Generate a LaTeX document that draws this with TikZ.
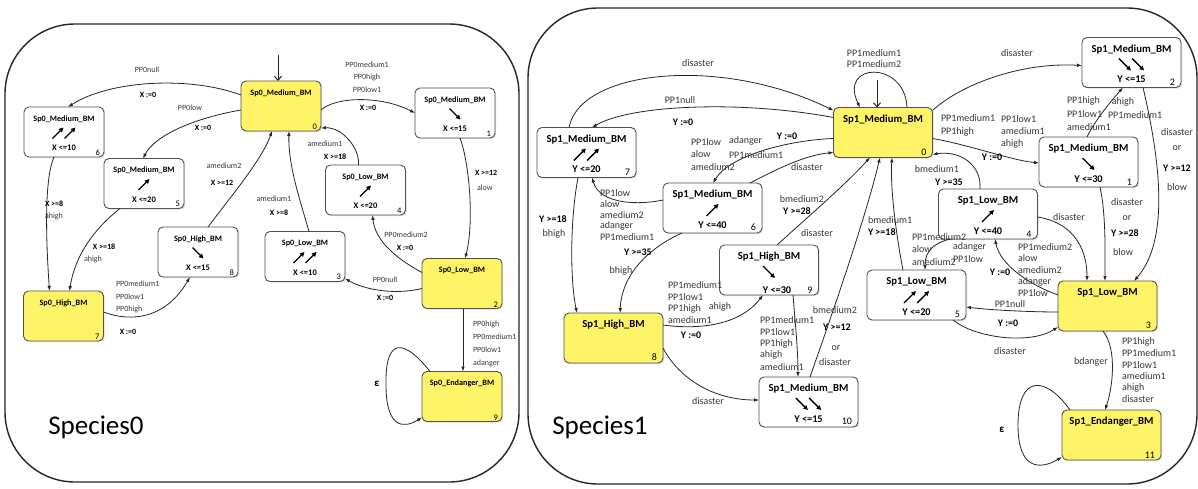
\documentclass[tikz,border=0pt]{standalone}
\usepackage{fontspec}
\setmainfont{Carlito}
\usetikzlibrary{calc,arrows.meta,shadows}
\definecolor{yel}{RGB}{255,244,104}
\definecolor{ink}{RGB}{38,38,38}
\definecolor{gtxt}{RGB}{55,55,55}
\definecolor{boxline}{RGB}{80,80,80}
\tikzset{
  every node/.style={inner sep=0pt,outer sep=0pt},
  panel/.style={draw=black!85,line width=1.4pt,rounded corners=70pt},
  shbox/.style={draw=boxline,line width=0.9pt,rounded corners=5pt,
    drop shadow={shadow xshift=1.2pt,shadow yshift=-1.2pt,opacity=0.25}},
  lbox/.style={shbox,minimum width=80pt,minimum height=50pt},
  rbox/.style={shbox,minimum width=99pt,minimum height=50pt},
  ltitle/.style={font=\fontsize{8.2}{9}\selectfont\bfseries},
  rtitle/.style={font=\fontsize{10.7}{12}\selectfont\bfseries},
  lcons/.style={font=\fontsize{8.5}{9}\selectfont\bfseries},
  rcons/.style={font=\fontsize{10.3}{11}\selectfont\bfseries},
  lidx/.style={font=\fontsize{8.5}{9}\selectfont},
  ridx/.style={font=\fontsize{10}{11}\selectfont},
  lab/.style={font=\fontsize{8}{9}\selectfont,text=gtxt},
  labb/.style={font=\fontsize{8}{9}\selectfont\bfseries},
  rlab/.style={font=\fontsize{10}{11}\selectfont,text=gtxt},
  rlabb/.style={font=\fontsize{10}{11}\selectfont\bfseries},
  big/.style={font=\fontsize{27}{30}\selectfont},
  eps/.style={font=\fontsize{11}{12}\selectfont\bfseries},
  edge/.style={draw=ink,line width=0.8pt,-{Latex[length=5pt,width=3.6pt]}},
  initarr/.style={draw=ink,line width=1pt,-{Straight Barb[length=4pt,width=7pt]}},
  inarrow/.style={line width=1.3pt,-{Triangle[length=4.5pt,width=4.5pt]}},
}
\newcommand{\aNone}[2]{}
\newcommand{\aNE}[2]{\draw[inarrow] ($(#1)+(-#2,#2)$) -- ($(#1)+(#2,-#2)$);}
\newcommand{\aSE}[2]{\draw[inarrow] ($(#1)+(-#2,-#2)$) -- ($(#1)+(#2,#2)$);}
\newcommand{\aNENE}[2]{%
  \draw[inarrow] ($(#1)+({-2.1*#2},#2)$) -- ($(#1)+({-0.1*#2},-#2)$);
  \draw[inarrow] ($(#1)+({0.1*#2},#2)$) -- ($(#1)+({2.1*#2},-#2)$);}
\newcommand{\aSESE}[2]{%
  \draw[inarrow] ($(#1)+({-2.1*#2},-#2)$) -- ($(#1)+({-0.1*#2},#2)$);
  \draw[inarrow] ($(#1)+({0.1*#2},-#2)$) -- ($(#1)+({2.1*#2},#2)$);}
\newcommand{\lstate}[7]{%
  \node[lbox,fill=#3] (#1) at (#2) {};
  \node[ltitle] (#1-t) at ($(#1.north)+(0,12)$) {#4};
  \coordinate (#1-a) at ($(#1.north)+(0,26)$);
  #5{#1-a}{5.5}%
  \node[lcons] (#1-c) at ($(#1.north)+(0,41)$) {#6};
  \node[lidx,anchor=south east] (#1-i) at ($(#1.south east)+(-4,-1.5)$) {#7};}
\newcommand{\rstate}[7]{%
  \node[rbox,fill=#3] (#1) at (#2) {};
  \node[rtitle] (#1-t) at ($(#1.north)+(0,12)$) {#4};
  \coordinate (#1-a) at ($(#1.north)+(0,27)$);
  #5{#1-a}{6}%
  \node[rcons] (#1-c) at ($(#1.north)+(0,42)$) {#6};
  \node[ridx,anchor=south east] (#1-i) at ($(#1.south east)+(-6,-2)$) {#7};}
\newcommand{\labs}[6]{\foreach \t [count=\i] in {#6} {\node[#5] (#1-\i) at (#2,{#3+(\i-1)*#4}) {\t};}}
\begin{document}
\begin{tikzpicture}[x=1pt,y=-1pt]
\useasboundingbox (0,0) rectangle (1198,488);
\fill[white] (0,0) rectangle (1198,488);
\node[panel,minimum width=514pt,minimum height=458pt] (P0) at (262,253) {};
\node[panel,minimum width=669pt,minimum height=476pt] (P1) at (862.5,246) {};

% ---------------- Species0 ----------------
\lstate{L0}{281,106}{yel}{Sp0\_Medium\_BM}{\aNone}{}{0}
\lstate{L1}{455,113}{white}{Sp0\_Medium\_BM}{\aSE}{X <=15}{1}
\lstate{L2}{462,283.5}{yel}{Sp0\_Low\_BM}{\aNone}{}{2}
\lstate{L3}{305,256.5}{white}{Sp0\_Low\_BM}{\aNENE}{X <=10}{3}
\lstate{L4}{365.5,190}{white}{Sp0\_Low\_BM}{\aNE}{X <=20}{4}
\lstate{L5}{144,183.5}{white}{Sp0\_Medium\_BM}{\aNE}{X <=20}{5}
\lstate{L6}{64,132}{white}{Sp0\_Medium\_BM}{\aNENE}{X <=10}{6}
\lstate{L7}{63.5,316}{yel}{Sp0\_High\_BM}{\aNone}{}{7}
\lstate{L8}{198,252}{white}{Sp0\_High\_BM}{\aSE}{X <=15}{8}
\lstate{L9}{462,396.5}{yel}{Sp0\_Endanger\_BM}{\aNone}{}{9}

\coordinate (L0in) at (278,55);
\draw[initarr] (L0in) -- ($(L0.north west)+(37,0)$);
\draw[edge] ($(L0.north west)+(0,14)$) .. controls (190,76) and (110,80) .. ($(L6.north west)+(44,0)$);
\draw[edge] ($(L0.north west)+(0,29)$) .. controls (195,118) and (155,135) .. ($(L5.north west)+(39,0)$);
\draw[edge] ($(L0.north west)+(80,29)$) .. controls (335,97) and (380,95) .. ($(L1.north west)+(0,25)$);
\draw[edge] ($(L1.north west)+(45,50)$) .. controls (470,165) and (474,225) .. ($(L2.north west)+(43,0)$);
\draw[edge] ($(L4.north west)+(33,0)$) .. controls (360,148) and (342,127) .. ($(L0.north west)+(80,47)$);
\draw[edge] ($(L3.north west)+(44,0)$) .. controls (300,200) and (288,165) .. ($(L0.north west)+(48,50)$);
\draw[edge] ($(L8.north west)+(50,0)$) .. controls (228,200) and (262,160) .. ($(L0.north west)+(31,50)$);
\draw[edge] ($(L6.north west)+(30,50)$) .. controls (44,180) and (46,240) .. ($(L7.north west)+(26,0)$);
\draw[edge] ($(L5.north west)+(16,50)$) .. controls (95,228) and (75,255) .. ($(L7.north west)+(46,0)$);
\draw[edge] ($(L7.north west)+(80,21)$) .. controls (130,322) and (165,320) .. ($(L8.north west)+(32,50)$);
\draw[edge] ($(L2.north west)+(0,14)$) .. controls (395,258) and (375,240) .. ($(L4.north west)+(47,50)$);
\draw[edge] ($(L2.north west)+(0,30)$) .. controls (395,295) and (365,290) .. ($(L3.north west)+(80,47)$);
\draw[edge] ($(L2.north west)+(41,50)$) -- ($(L9.north west)+(41,0)$);
\coordinate (L9loop) at (386,385);
\draw[edge] ($(L9.north west)+(8,0)$) .. controls (405,340) and (385,335) .. (L9loop)
   .. controls (386,430) and (405,428) .. ($(L9.north west)+(0,46)$);

\node[lab] (l1) at (147,70) {PP0null};
\node[labb] (l2) at (148,95) {X :=0};
\node[lab] (l3) at (190,108) {PP0low};
\node[labb] (l4) at (203,128) {X :=0};
\labs{l5}{367}{65}{12.5}{lab}{PP0medium1,PP0high,PP0low1}
\node[labb] (l6) at (368,108) {X :=0};
\node[labb,anchor=west] (l7) at (475,173) {X >=12};
\node[lab,anchor=west] (l8) at (477,188) {alow};
\node[lab] (l9) at (325,144) {amedium1};
\node[labb] (l10) at (335,157) {X >=18};
\node[lab] (l11) at (274,199) {amedium1};
\node[labb] (l12) at (279,213) {X >=8};
\node[lab] (l13) at (224,166) {amedium2};
\node[labb] (l14) at (222,183) {X >=12};
\node[labb,anchor=west] (l15) at (45,204) {X >=8};
\node[lab,anchor=west] (l16) at (45,216) {ahigh};
\node[labb] (l17) at (104,247) {X >=18};
\node[lab] (l18) at (93,259) {ahigh};
\labs{l19}{116}{284}{12.5}{lab,anchor=west}{PP0medium1,PP0low1,PP0high}
\node[labb] (l20) at (128,332) {X :=0};
\node[lab] (l21) at (406,235) {PP0medium2};
\node[labb] (l22) at (405,248) {X :=0};
\node[lab] (l23) at (385,280) {PP0null};
\node[labb] (l24) at (385,298) {X :=0};
\labs{l25}{473}{324}{13}{lab,anchor=west}{PP0high,PP0medium1,PP0low1,adanger}
\node[eps] (l26) at (377,384) {ε};
\node[big] (S0) at (96,427) {Species0};

% ---------------- Species1 ----------------
\rstate{R0}{883,132.5}{yel}{Sp1\_Medium\_BM}{\aNone}{}{0}
\rstate{R1}{1088.5,162}{white}{Sp1\_Medium\_BM}{\aSE}{Y <=30}{1}
\rstate{R2}{1131.5,62.5}{white}{Sp1\_Medium\_BM}{\aSESE}{Y <=15}{2}
\rstate{R3}{1107.5,306}{yel}{Sp1\_Low\_BM}{\aNone}{}{3}
\rstate{R4}{988,214}{white}{Sp1\_Low\_BM}{\aNE}{Y <=40}{4}
\rstate{R5}{916.5,295}{white}{Sp1\_Low\_BM}{\aNENE}{Y <=20}{5}
\rstate{R6}{712.5,208}{white}{Sp1\_Medium\_BM}{\aNE}{Y <=40}{6}
\rstate{R7}{586.5,152.5}{white}{Sp1\_Medium\_BM}{\aNENE}{Y <=20}{7}
\rstate{R8}{613.5,338}{yel}{Sp1\_High\_BM}{\aNone}{}{8}
\rstate{R9}{769,270}{white}{Sp1\_High\_BM}{\aSE}{}{9}
\node[rcons] (R9-c2) at (777,290) {Y <=30};
\rstate{R10}{808.5,402}{white}{Sp1\_Medium\_BM}{\aSESE}{Y <=15}{10}
\rstate{R11}{1111.5,435}{yel}{Sp1\_Endanger\_BM}{\aNone}{}{11}

\coordinate (R0in) at (877,80);
\draw[initarr] (R0in) -- ($(R0.north west)+(43.5,0)$);
\draw[edge] ($(R0.north west)+(73.5,0)$) .. controls (905,60) and (838,62) .. ($(R0.north west)+(26.5,0)$);
\draw[edge] ($(R0.north west)+(0,10)$) .. controls (740,100) and (630,105) .. ($(R7.north west)+(55,0)$);
\draw[edge] ($(R7.north west)+(32,0)$) .. controls (580,70) and (720,55) .. ($(R0.north west)+(0,3)$);
\draw[edge] ($(R0.north west)+(0,31)$) .. controls (790,140) and (730,155) .. ($(R6.north west)+(50,0)$);
\draw[edge] ($(R6.north west)+(87,0)$) .. controls (775,170) and (805,155) .. ($(R0.north west)+(0,45)$);
\draw[edge] ($(R6.north west)+(0,17)$) .. controls (640,205) and (600,205) .. ($(R7.north west)+(55,50)$);
\draw[edge] ($(R7.north west)+(41,50)$) .. controls (570,220) and (570,280) .. ($(R8.north west)+(13,0)$);
\draw[edge] ($(R6.north west)+(19,50)$) .. controls (655,245) and (622,270) .. ($(R8.north west)+(56,0)$);
\draw[edge] ($(R8.north west)+(99,12)$) .. controls (700,330) and (740,325) .. ($(R9.north west)+(43.5,50)$);
\draw[edge] ($(R8.north west)+(99,35)$) .. controls (680,380) and (715,400) .. ($(R10.north west)+(0,23)$);
\draw[edge] ($(R9.north west)+(57.5,0)$) .. controls (810,215) and (845,185) .. ($(R0.north west)+(36.5,50)$);
\draw[edge] ($(R9.north west)+(73.5,50)$) .. controls (795,320) and (798,350) .. ($(R10.north west)+(39,0)$);
\draw[edge] ($(R10.north west)+(51,0)$) .. controls (830,320) and (865,220) .. ($(R0.north west)+(46.5,50)$);
\draw[edge] ($(R5.north west)+(36,0)$) .. controls (897,240) and (890,190) .. ($(R0.north west)+(58.5,50)$);
\draw[edge] ($(R4.north west)+(41.5,0)$) .. controls (982,165) and (960,150) .. ($(R0.north west)+(99,47)$);
\draw[edge] ($(R0.north west)+(99,31)$) .. controls (970,145) and (1010,160) .. ($(R1.north west)+(0,26)$);
\draw[edge] ($(R0.north west)+(99,3)$) .. controls (960,85) and (1020,62) .. ($(R2.north west)+(0,28)$);
\draw[edge] ($(R1.north west)+(48,0)$) .. controls (1095,120) and (1112,100) .. ($(R2.north west)+(41,50)$);
\draw[edge] ($(R2.north west)+(61,50)$) .. controls (1160,160) and (1170,240) .. ($(R3.north west)+(76,0)$);
\draw[edge] ($(R1.north west)+(61,50)$) .. controls (1106,215) and (1105,250) .. ($(R3.north west)+(47,0)$);
\draw[edge] ($(R4.north west)+(99,28)$) .. controls (1070,222) and (1087,245) .. ($(R3.north west)+(29,0)$);
\draw[edge] ($(R3.north west)+(0,14)$) .. controls (1030,285) and (1000,265) .. ($(R4.north west)+(56.5,50)$);
\draw[edge] ($(R3.north west)+(0,31)$) .. controls (1030,312) and (990,310) .. ($(R5.north west)+(99,37)$);
\draw[edge] ($(R5.north west)+(86,50)$) .. controls (975,338) and (1030,345) .. ($(R3.north west)+(0,46)$);
\draw[edge] ($(R4.north west)+(11.5,50)$) .. controls (935,243) and (925,250) .. ($(R5.north west)+(58,0)$);
\draw[edge] ($(R3.north west)+(45,50)$) .. controls (1118,350) and (1112,390) .. ($(R11.north west)+(43,0)$);
\coordinate (R11loop) at (1018,425);
\draw[edge] ($(R11.north west)+(8,0)$) .. controls (1045,375) and (1018,375) .. (R11loop)
   .. controls (1018,470) and (1040,470) .. ($(R11.north west)+(0,47)$);

\labs{r1}{874}{53}{11.5}{rlab}{PP1medium1,PP1medium2}
\node[rlab] (r2) at (698,63) {disaster};
\node[rlab] (r3) at (680,100) {PP1null};
\node[rlabb] (r4) at (683,122) {Y :=0};
\labs{r5}{691}{142}{12.5}{rlab,anchor=west}{PP1low,alow,amedium2}
\labs{r6}{729}{141}{14}{rlab,anchor=west}{adanger,PP1medium1}
\node[rlabb] (r7) at (787,136) {Y :=0};
\node[rlab] (r8) at (807,167) {disaster};
\labs{r9}{600}{193}{11}{rlab,anchor=west}{PP1low,alow,amedium2,adanger,PP1medium1}
\node[rlabb] (r10) at (553,219) {Y >=18};
\node[rlab] (r11) at (554,234) {bhigh};
\node[rlabb] (r12) at (638,252) {Y >=35};
\node[rlab] (r13) at (621,271) {bhigh};
\labs{r14}{668}{285}{11.7}{rlab,anchor=west}{PP1medium1,PP1low1,PP1high,amedium1}
\node[rlab] (r15) at (720,307) {ahigh};
\node[rlabb] (r16) at (691,335) {Y :=0};
\node[rlab] (r17) at (708,401) {disaster};
\node[rlab] (r18) at (802,199) {bmedium2};
\node[rlabb] (r19) at (797,211) {Y >=28};
\node[rlab] (r20) at (817,233) {disaster};
\labs{r21}{760}{320}{11.7}{rlab,anchor=west}{PP1medium1,PP1low1,PP1high,ahigh,amedium1}
\node[rlab] (r22) at (835,310) {bmedium2};
\node[rlabb] (r23) at (837,327) {Y >=12};
\node[rlab] (r24) at (836,348) {or};
\node[rlab] (r25) at (835,362) {disaster};
\node[rlab,anchor=west] (r26) at (868,220) {bmedium1};
\node[rlabb,anchor=west] (r27) at (868,232) {Y >=18};
\node[rlab] (r28) at (937,169) {bmedium1};
\node[rlabb] (r29) at (949,182) {Y >=35};
\labs{r30}{941}{118}{14}{rlab,anchor=west}{PP1medium1,PP1high}
\labs{r31}{1001}{119}{12.5}{rlab,anchor=west}{PP1low1,amedium1,ahigh}
\node[rlabb] (r32) at (992,157) {Y :=0};
\node[rlab] (r33) at (1017,53) {disaster};
\labs{r34}{1067}{101}{13}{rlab,anchor=west}{PP1high,PP1low1,amedium1}
\node[rlab] (r35) at (1123,102) {ahigh};
\node[rlab,anchor=west] (r36) at (1108,115) {PP1medium1};
\node[rlab] (r37) at (1177,132) {disaster};
\node[rlab] (r38) at (1177,148) {or};
\node[rlabb] (r39) at (1177,168) {Y >=12};
\node[rlab] (r40) at (1177,187) {blow};
\node[rlab] (r41) at (1127,202) {disaster};
\node[rlab] (r42) at (1127,218) {or};
\node[rlabb] (r43) at (1125,233) {Y >=28};
\node[rlab] (r44) at (1123,252) {blow};
\node[rlab] (r45) at (1069,217) {disaster};
\labs{r46}{1018}{247}{11.5}{rlab,anchor=west}{PP1medium2,alow,amedium2,adanger,PP1low}
\node[rlabb] (r47) at (1000,272) {Y :=0};
\node[rlab] (r48) at (1010,304) {PP1null};
\node[rlabb] (r49) at (1008,323) {Y :=0};
\node[rlab] (r50) at (1010,351) {disaster};
\labs{r51}{912}{237}{12.5}{rlab,anchor=west}{PP1medium2,alow,amedium2}
\labs{r52}{953}{247}{12}{rlab,anchor=west}{adanger,PP1low}
\node[rlab] (r53) at (1091,362) {bdanger};
\labs{r54}{1122}{342}{11.4}{rlab,anchor=west}{PP1high,PP1medium1,PP1low1,amedium1,ahigh,disaster}
\node[eps] (r55) at (1002,430) {ε};
\node[big] (S1) at (600,427) {Species1};
\end{tikzpicture}
\end{document}
